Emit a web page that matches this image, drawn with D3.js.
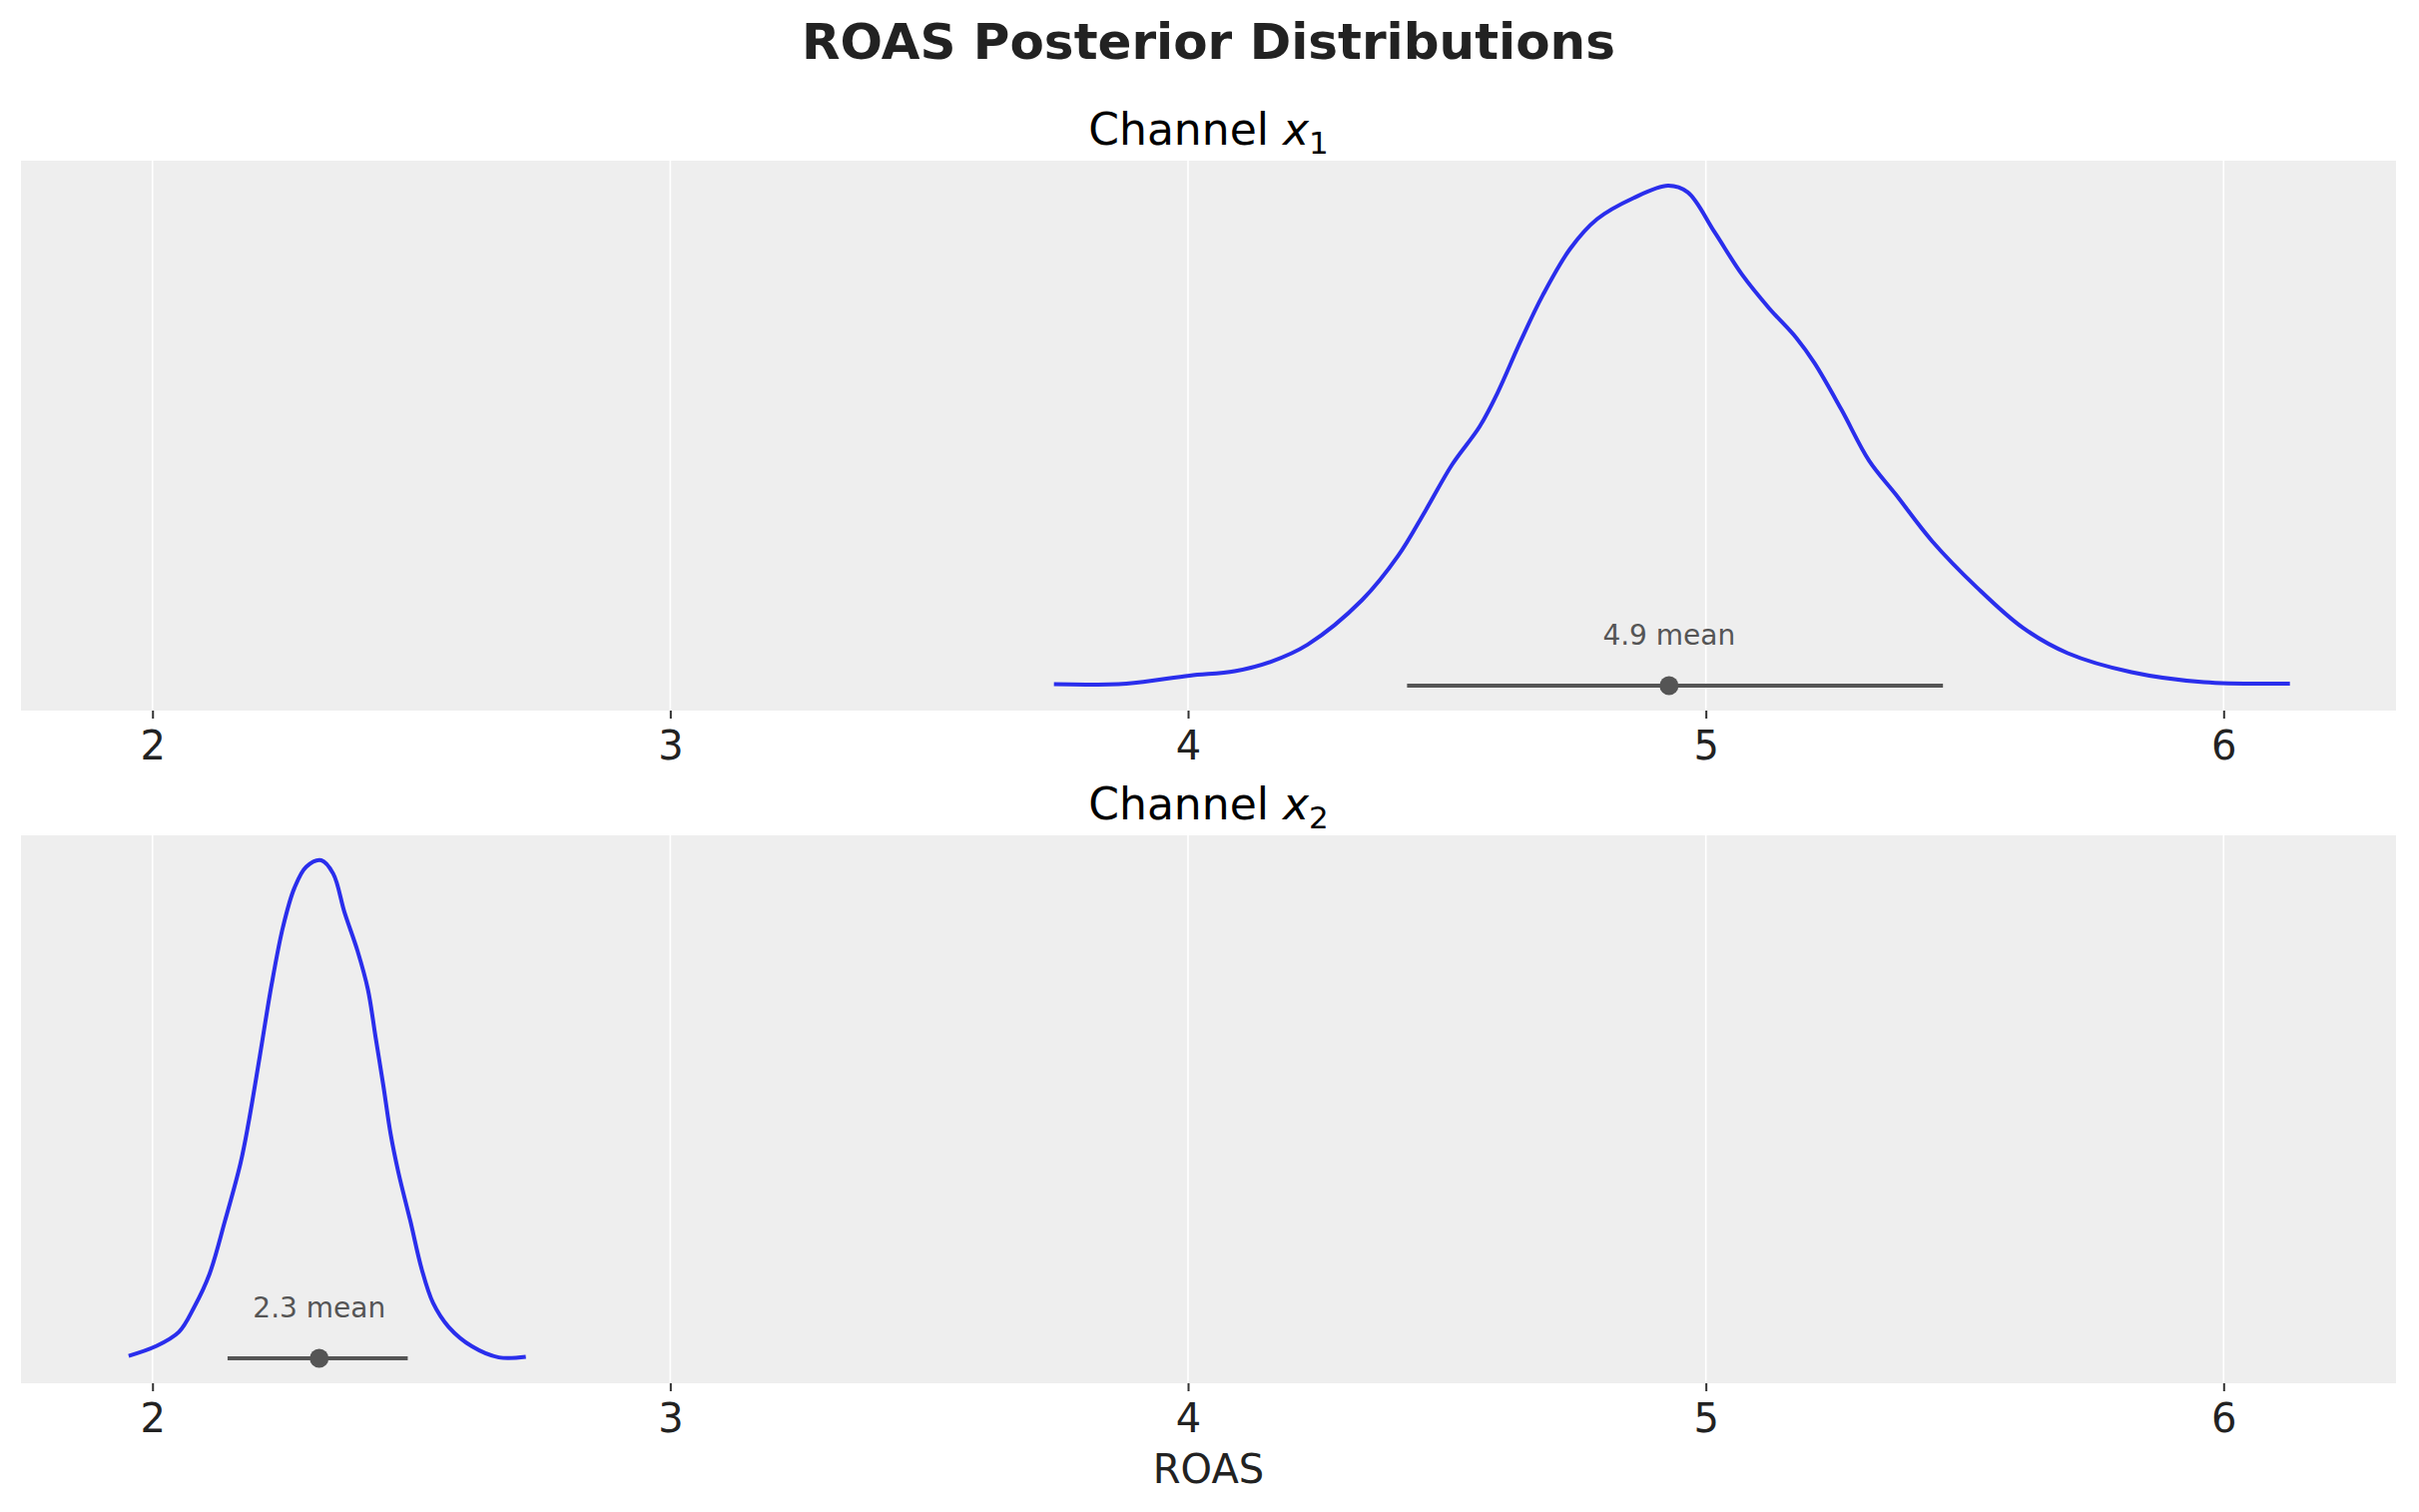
<!DOCTYPE html>
<html>
<head>
<meta charset="utf-8">
<script src="https://cdn.jsdelivr.net/npm/d3@7"></script>
<style>
	body { margin: 0; background: #fff; }
	text { font-family: "DejaVu Sans", sans-serif; }
</style>
</head>
<body>
<svg id="chart"></svg>
<script>

// Posterior density of ROAS
var channels = ["1", "2"];

var x1Roas = [3.741, 3.881, 4.003, 4.09, 4.161, 4.231, 4.336, 4.406, 4.458, 4.51, 4.563, 4.598, 4.642, 4.685, 4.738, 4.79, 4.86, 4.927, 4.965, 5.017, 5.07, 5.122, 5.175, 5.21, 5.262, 5.315, 5.367, 5.437, 5.524, 5.612, 5.699, 5.822, 5.962, 6.128];
var x1Density = [0.004, 0.006, 0.029, 0.042, 0.07, 0.119, 0.248, 0.377, 0.506, 0.641, 0.751, 0.85, 0.998, 1.132, 1.267, 1.353, 1.414, 1.45, 1.431, 1.315, 1.192, 1.095, 1.008, 0.935, 0.8, 0.653, 0.554, 0.419, 0.284, 0.168, 0.094, 0.039, 0.01, 0.006];

var x2Roas = [1.954, 2.006, 2.051, 2.08, 2.11, 2.14, 2.17, 2.185, 2.207, 2.23, 2.252, 2.274, 2.297, 2.326, 2.349, 2.371, 2.396, 2.416, 2.431, 2.446, 2.46, 2.475, 2.498, 2.52, 2.542, 2.572, 2.617, 2.669, 2.721];
var x2Density = [0.021, 0.101, 0.223, 0.428, 0.71, 1.159, 1.646, 1.974, 2.541, 3.15, 3.637, 3.965, 4.145, 4.2, 4.087, 3.759, 3.436, 3.112, 2.705, 2.297, 1.89, 1.567, 1.159, 0.752, 0.466, 0.265, 0.101, 0.008, 0.013];

var hdiLow = [4.423, 2.145];
var hdiHigh = [5.458, 2.493];
var means = [4.929, 2.322];
var meanLabels = ["4.9 mean", "2.3 mean"];

var xTicks = [2, 3, 4, 5, 6];
var xDomain = [1.746, 6.333];

var W = 2423, H = 1515;
var left = 21, right = 2400;
var panels = [
	{ top: 161, bottom: 712, roas: x1Roas, dens: x1Density },
	{ top: 837, bottom: 1386, roas: x2Roas, dens: x2Density }
];

var svg = d3.select('#chart')
	.attr('width', W)
	.attr('height', H);

svg.append('text')
	.attr('x', (left + right) / 2)
	.attr('y', 59)
	.attr('text-anchor', 'middle')
	.style('font-size', '50px')
	.style('font-weight', 'bold')
	.style('fill', '#222')
	.text('ROAS Posterior Distributions');

var x = d3.scaleLinear().domain(xDomain).range([left, right]);

panels.forEach(function(p, i){

	var pts = p.roas.map(function(r, j){ return [r, p.dens[j]] });
	var ymax = d3.max(p.dens);
	var y = d3.scaleLinear()
		.domain([-0.05 * ymax, 1.05 * ymax])
		.range([p.bottom, p.top]);

	var g = svg.append('g');

	g.append('rect')
		.attr('x', left)
		.attr('y', p.top)
		.attr('width', right - left)
		.attr('height', p.bottom - p.top)
		.style('fill', '#eeeeee');

	// white vertical grid
	g.selectAll('line.grid')
		.data(xTicks)
		.enter()
		.append('line')
			.attr('class', 'grid')
			.attr('x1', function(d){ return x(d) })
			.attr('x2', function(d){ return x(d) })
			.attr('y1', p.top)
			.attr('y2', p.bottom)
			.style('stroke', '#fff')
			.style('stroke-width', 1.6);

	var axis = g.append('g')
		.attr('transform', 'translate(0,' + p.bottom + ')')
		.call(d3.axisBottom(x).tickValues(xTicks).tickFormat(d3.format('d')).tickSize(8).tickPadding(13));
	axis.select('.domain').remove();
	axis.selectAll('line').style('stroke', '#333').style('stroke-width', 2);
	axis.selectAll('text')
		.style('font-size', '40px')
		.style('fill', '#222')
		.style('font-family', '"DejaVu Sans"');

	// panel title: Channel x_i
	var t = svg.append('text')
		.attr('x', (left + right) / 2)
		.attr('y', p.top - 16)
		.attr('text-anchor', 'middle')
		.style('font-size', '44px')
		.style('fill', '#000');
	t.append('tspan').text('Channel ');
	t.append('tspan').style('font-style', 'italic').text('x');
	t.append('tspan').attr('dy', 9).style('font-size', '31px').text(channels[i]);

	// density curve
	g.append('path')
		.datum(pts)
		.attr('d', d3.line()
			.x(function(d){ return x(d[0]) })
			.y(function(d){ return y(d[1]) })
			.curve(d3.curveCatmullRom))
		.style('fill', 'none')
		.style('stroke', '#2a2eec')
		.style('stroke-width', 4);

	// hdi line + mean point
	g.append('line')
		.attr('x1', x(hdiLow[i]))
		.attr('x2', x(hdiHigh[i]))
		.attr('y1', y(0))
		.attr('y2', y(0))
		.style('stroke', '#555')
		.style('stroke-width', 4);

	g.append('circle')
		.attr('cx', x(means[i]))
		.attr('cy', y(0))
		.attr('r', 9.5)
		.style('fill', '#555');

	g.append('text')
		.attr('x', x(means[i]))
		.attr('y', y(0) - 41)
		.attr('text-anchor', 'middle')
		.style('font-size', '28px')
		.style('fill', '#555')
		.text(meanLabels[i]);
});

svg.append('text')
	.attr('x', (left + right) / 2)
	.attr('y', 1486)
	.attr('text-anchor', 'middle')
	.style('font-size', '40px')
	.style('fill', '#222')
	.text('ROAS');

</script>
</body>
</html>
